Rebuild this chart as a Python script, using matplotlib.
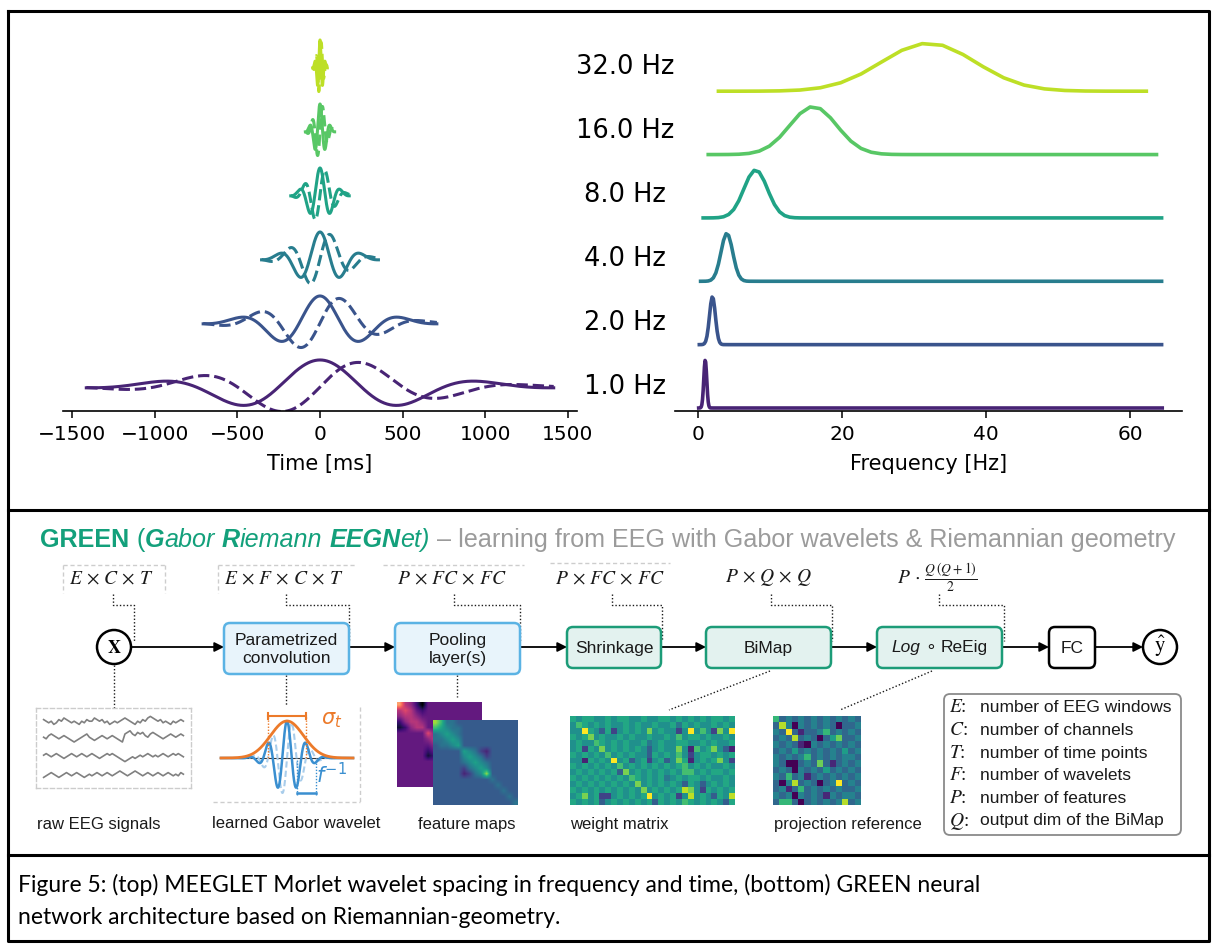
import numpy as np
import matplotlib
matplotlib.use('Agg')
import matplotlib.pyplot as plt
from matplotlib import transforms
from matplotlib.patches import FancyBboxPatch, Circle

W, H = 1212, 948

# ---------------- top panel: Morlet wavelets ----------------
freqs = [1.0, 2.0, 4.0, 8.0, 16.0, 32.0]
freq_labels = ['1.0 Hz', '2.0 Hz', '4.0 Hz', '8.0 Hz', '16.0 Hz', '32.0 Hz']
sigma_cycles = 0.55        # envelope std (in cycles)
half_width_cycles = 1.414  # wavelets are cut at +-sqrt(2) cycles
spec_rel_std = 0.289       # amplitude spectrum std / centre frequency
spec_grid_div = 11.31      # spectrum sampled every f/11.31 Hz
spec_fmax = 64.5
time_ticks = [-1500, -1000, -500, 0, 500, 1000, 1500]
freq_ticks = [0, 20, 40, 60]
time_row_gap = 2.37
freq_row_gap = 1.32

# ---------------- bottom panel: GREEN diagram ----------------
title_parts = [('GREEN', 'bold', 'normal', 'g'), (' ', 'bold', 'normal', 'g'),
               ('(', 'normal', 'normal', 'g'), ('G', 'bold', 'italic', 'g'),
               ('abor', 'normal', 'italic', 'g'), (' ', 'normal', 'italic', 'g'),
               ('R', 'bold', 'italic', 'g'), ('iemann', 'normal', 'italic', 'g'),
               (' ', 'normal', 'italic', 'g'), ('EEGN', 'bold', 'italic', 'g'),
               ('et)', 'normal', 'italic', 'g'), (' ', 'normal', 'normal', 'k'),
               ('\u2013 learning from EEG with Gabor wavelets & Riemannian geometry',
                'normal', 'normal', 'grey')]
dim_labels = [r'$E\,\times\,C\,\times\,T$', r'$E\,\times\,F\,\times\,C\,\times\,T$',
              r'$P\,\times\,FC\,\times\,FC$', r'$P\,\times\,FC\,\times\,FC$',
              r'$P\,\times\,Q\,\times\,Q$', r'$P\,\cdot\,\frac{Q\,(Q+1)}{2}$']
block_names = ['Parametrized\nconvolution', 'Pooling\nlayer(s)', 'Shrinkage', 'BiMap',
               'LOGREEIG', 'FC']
legend_keys = ['E', 'C', 'T', 'F', 'P', 'Q']
legend_text = ['number of EEG windows', 'number of channels', 'number of time points',
               'number of wavelets', 'number of features', 'output dim of the BiMap']
image_captions = ['raw EEG signals', 'learned Gabor wavelet', 'feature maps',
                  'weight matrix', 'projection reference']

eeg_traces = [
    "65453465 76545435 46557656 45345456 76543546 57876564 54354565",
    "54676545 65432345 67543456 54565432 78976878 65787654 56765676",
    "56545654 34565456 54565434 56565432 12343454 56545456 54565654",
    "34565434 56545654 34545654 56545676 54567654 56545654 56545465",
]
gabor_period = 19
gabor_sigma = 14
gabor_env_sigma = 16.5
gabor_amp = 37

feat_back = [
    "85420 33333 33333", "56532 33333 33333", "45543 33333 33333",
    "24554 33333 33333", "12455 33333 33333", "33333 64321 33333",
    "33333 45432 33333", "33333 34543 33333", "33333 23454 33333",
    "33333 12345 33333", "33333 33333 43333", "33333 33333 34333",
    "33333 33333 33433", "33333 33333 33343", "33333 33333 33334",
]
feat_front = [
    "97443 33333 33333", "76544 33333 33333", "45654 33333 33333",
    "44565 33333 33333", "34456 33333 33333", "33333 65421 33333",
    "33333 56542 33333", "33333 45654 33333", "33333 24565 33333",
    "33333 12459 33333", "33333 33333 43333", "33333 33333 34333",
    "33333 33333 33433", "33333 33333 33343", "33333 33333 33334",
]
weight_rows = [
    "5455445 4554454 4554545 4545545", "4654545 4454544 5445354 5445454",
    "4495425 1454547 4544149 4641749", "5457454 4545445 4454645 5454454",
    "4544654 5454453 4544554 4545445", "4515474 5454542 4544740 6457420",
    "5454546 4545442 5454641 4554545", "4405454 9452451 4524750 4545741",
    "5454545 4645454 5454564 5454454", "4545454 5274545 4545466 4545545",
    "5454545 4546545 4534545 5454454", "4545454 5454745 4545425 4245454",
    "5454545 4545474 5454587 4154545", "4574511 4545459 4545148 4542548",
    "5454524 5454545 2545465 4545425",
]
proj_rows = [
    "634343 434343 43", "384043 434303 34", "439313 346343 43",
    "343834 303573 34", "434310 434343 43", "343534 343435 34",
    "434346 343434 43", "430034 373134 34", "343043 435343 43",
    "436341 343434 34", "304834 303493 43", "341363 434343 34",
    "434043 431434 43", "366303 434348 34",
]

caption = ["Figure 5: (top) MEEGLET Morlet wavelet spacing in frequency and time, (bottom) GREEN neural",
           "network architecture based on Riemannian-geometry."]


def digits(rows):
    return np.array([[int(ch) for ch in r.replace(' ', '')] for r in rows], dtype=float)


GREEN = '#13a07b'
GREY = '#9b9b9b'
BLUE_EC, BLUE_FC = '#5bb3e4', '#e8f4fb'
GREEN_EC, GREEN_FC = '#1c9c78', '#e3f2ef'
INK = '#1a1a1a'
cmap_col = {'g': GREEN, 'grey': GREY, 'k': INK}

fig = plt.figure(figsize=(W / 100, H / 100), dpi=100)
ov = fig.add_axes([0, 0, 1, 1])
ov.set_xlim(0, W)
ov.set_ylim(H, 0)
ov.axis('off')
renderer = fig.canvas.get_renderer()


def px_axes(x0, y0, x1, y1):
    return fig.add_axes([x0 / W, 1 - y1 / H, (x1 - x0) / W, (y1 - y0) / H])


def text_w(t):
    return t.get_window_extent(renderer).width


def draw_run(x, y, parts, size, family):
    arts = []
    for s, weight, style, color in parts:
        props = dict(fontsize=size, family=family, weight=weight, style=style)
        if s == ' ':
            a = ov.text(0, 0, 'x x', **props)
            b = ov.text(0, 0, 'xx', **props)
            x += text_w(a) - text_w(b)
            a.remove()
            b.remove()
            continue
        t = ov.text(x, y, s, color=cmap_col.get(color, color), va='center', ha='left', **props)
        x += text_w(t)
        arts.append(t)
    return x, arts


# ---- frame
fk = dict(color='black', lw=2.2, solid_capstyle='projecting')
ov.plot([8, 1209, 1209, 8, 8], [11, 11, 941, 941, 11], **fk)
ov.plot([8, 1209], [510, 510], **fk)
ov.plot([8, 1209], [855, 855], **fk)

# ---- top plots
colors = plt.cm.viridis(np.linspace(0.1, 0.9, len(freqs)))
ax1 = px_axes(63, 30, 577, 411)
ax2 = px_axes(675, 30, 1182, 411)
lab_tr = transforms.blended_transform_factory(ov.transData, ax1.transData)
for i, (f, c) in enumerate(zip(freqs, colors)):
    t = np.linspace(-half_width_cycles, half_width_cycles, 801) / f
    env = np.exp(-(t * f) ** 2 / (2 * sigma_cycles ** 2))
    off = i * time_row_gap
    ax1.plot(t * 1000, env * np.cos(2 * np.pi * f * t) + off, color=c, lw=2.2)
    ax1.plot(t * 1000, env * np.sin(2 * np.pi * f * t) + off, color=c, lw=2.2, ls='--')
    step = f / spec_grid_div
    fr = np.arange(step, spec_fmax, step)
    power = np.exp(-((fr - f) / (spec_rel_std * f)) ** 2)
    ax2.plot(fr, power + i * freq_row_gap, color=c, lw=2.6)
    ax1.text(625, off, freq_labels[i], transform=lab_tr, ha='center', va='center',
             fontsize=18.5, clip_on=False)

ax1.set_xlim(-1555, 1555)
ax1.set_ylim(-0.89, 13.22)
ax1.set_xticks(time_ticks)
ax1.set_xlabel('Time [ms]', fontsize=15, labelpad=7)
ax2.set_xlim(-3.2, 67.2)
ax2.set_ylim(-0.0625, 7.875)
ax2.set_xticks(freq_ticks)
ax2.set_xlabel('Frequency [Hz]', fontsize=15, labelpad=7)
for ax in (ax1, ax2):
    ax.set_facecolor('none')
    for s in ('left', 'top', 'right'):
        ax.spines[s].set_visible(False)
    ax.spines['bottom'].set_linewidth(1.2)
    ax.set_yticks([])
    ax.tick_params(axis='x', labelsize=14.5, length=5, width=1.1, pad=5)

# ---- title of diagram
end, arts = draw_run(40, 540, title_parts, 16, 'Liberation Sans')
for a in arts:
    a.remove()
draw_run(40, 540, title_parts, 16 * (1176 - 40) / (end - 40), 'Liberation Sans')

# ---- dimension labels and connectors
dim_x = [111, 284, 452, 610, 769, 937]
right_edges = [134, 349, 520, 662, 832, 1004]
for lbl, x, xr in zip(dim_labels, dim_x, right_edges):
    ov.text(x, 578, lbl, ha='center', va='center', fontsize=14, color=INK,
            math_fontfamily='stix')
    ov.plot([x + 2, x + 2, xr, xr], [594, 605, 605, 641], color=INK, lw=1.0,
            ls=(0, (1, 1.5)))
faint = dict(color='#cdcdcd', lw=1.0, ls=(0, (3, 2)))
ov.plot([63, 63], [565, 593], **faint)
ov.plot([165, 165], [565, 593], **faint)
ov.plot([63, 165], [565, 565], **faint)
ov.plot([218, 218], [565, 593], **faint)
ov.plot([218, 356], [565, 565], **faint)
ov.plot([383, 524], [565, 565], **faint)
ov.plot([550, 670], [563, 563], **faint)

# ---- blocks
blocks = [(224, 623, 349, 674, BLUE_EC, BLUE_FC), (395, 623, 520, 674, BLUE_EC, BLUE_FC),
          (567, 627, 661, 668, GREEN_EC, GREEN_FC), (706, 627, 831, 668, GREEN_EC, GREEN_FC),
          (877, 627, 1002, 668, GREEN_EC, GREEN_FC), (1049, 627, 1095, 668, 'black', 'white')]
for name, (x0, y0, x1, y1, ec, fc) in zip(block_names, blocks):
    ov.add_patch(FancyBboxPatch((x0, y0), x1 - x0, y1 - y0,
                                boxstyle='round,pad=0,rounding_size=6',
                                fc=fc, ec=ec, lw=1.8, zorder=3))
    cx, cy = (x0 + x1) / 2, (y0 + y1) / 2
    if name == 'LOGREEIG':
        parts = [('Log', 'normal', 'italic', 'k'), (' ', 'normal', 'normal', 'k'),
                 ('\u2218', 'normal', 'normal', 'k'), (' ', 'normal', 'normal', 'k'),
                 ('ReEig', 'normal', 'normal', 'k')]
        e, arts = draw_run(0, cy, parts, 12.5, ['Liberation Sans', 'DejaVu Sans'])
        for a in arts:
            a.set_x(a.get_position()[0] + cx - e / 2)
            a.set_zorder(4)
    else:
        ov.text(cx, cy + 1, name, ha='center', va='center', fontsize=12.5,
                family='Liberation Sans', color=INK, linespacing=1.3, zorder=4)

ov.add_patch(Circle((114, 647), 17, fc='white', ec='black', lw=1.8, zorder=3))
ov.text(114, 648, r'$\mathbf{X}$', ha='center', va='center', fontsize=13,
        math_fontfamily='stix', zorder=4)
ov.add_patch(Circle((1160, 647), 17, fc='white', ec='black', lw=1.8, zorder=3))
ov.text(1160, 646, r'$\hat{\mathrm{y}}$', ha='center', va='center', fontsize=15,
        math_fontfamily='stix', zorder=4)

arrows = [(131, 224), (349, 395), (520, 567), (661, 706), (831, 877), (1002, 1049), (1095, 1143)]
for xa, xb in arrows:
    ov.annotate('', xy=(xb, 647), xytext=(xa, 647),
                arrowprops=dict(arrowstyle='-|>', color='black', lw=1.3,
                                mutation_scale=14, shrinkA=0, shrinkB=0), zorder=2)

dot = dict(color=INK, lw=1.0, ls=(0, (1, 1.5)))
ov.plot([114, 114], [665, 708], **dot)
ov.plot([286, 286], [675, 706], **dot)
ov.plot([457, 457], [675, 697], **dot)
ov.plot([770, 669], [671, 710], **dot)
ov.plot([932, 840], [671, 710], **dot)

# ---- raw EEG
axe = px_axes(36, 708, 191, 788)
for k, tr in enumerate(eeg_traces):
    vals = digits([tr])[0]
    axe.plot(np.arange(len(vals)), [14, 30, 48, 67][k] - (vals - 4.5) * 1.6,
             color='#808080', lw=1.2)
axe.set_xlim(-3, 58)
axe.set_ylim(80, 0)
axe.set_xticks([])
axe.set_yticks([])
for sp in axe.spines.values():
    sp.set_linestyle((0, (3, 2)))
    sp.set_color('#cccccc')
    sp.set_linewidth(1.0)

# ---- Gabor illustration
axg = px_axes(213, 707, 360, 802)
axg.set_xlim(-74, 73)
axg.set_ylim(-44, 51)
axg.axis('off')
gx = np.linspace(-66, 66, 500)
genv = np.exp(-gx ** 2 / (2 * gabor_sigma ** 2))
axg.plot([-67, 66], [0, 0], color='#333333', lw=0.8)
axg.plot(gx, gabor_amp * genv * np.sin(2 * np.pi * gx / gabor_period), color='#a9cdeb',
         lw=1.5, ls=(0, (3, 1.5)))
axg.plot(gx, gabor_amp * genv * np.cos(2 * np.pi * gx / gabor_period), color='#3a8fd0', lw=1.8)
axg.plot(gx, gabor_amp * np.exp(-gx ** 2 / (2 * gabor_env_sigma ** 2)), color='#ec7a2a', lw=2.0)
half = gabor_env_sigma * 1.1774
axg.plot([-half, half], [42, 42], color='#ec7a2a', lw=1.5)
for xv in (-half, half):
    axg.plot([xv, xv], [39, 45], color='#ec7a2a', lw=1.5)
    axg.plot([xv, xv], [0, 42], color='#ec7a2a', lw=1.0, ls=(0, (1, 1.2)))
for xv in (gabor_period / 2, gabor_period * 1.5):
    axg.plot([xv, xv], [-37, 0], color='#3a8fd0', lw=1.0, ls=(0, (1, 1.2)))
axg.plot([gabor_period / 2, gabor_period * 1.5], [-35, -35], color='#3a8fd0', lw=1.8)
axg.text(45, 38, r'$\sigma_t$', color='#ec7a2a', fontsize=15, ha='center', va='center')
axg.text(45, -17, r'$f^{-1}$', color='#3a8fd0', fontsize=15, ha='center', va='center')
ov.plot([360, 360], [707, 802], **faint)
ov.plot([213, 360], [802, 802], **faint)

# ---- feature maps and matrices
axb = px_axes(397, 702, 482, 787)
axb.imshow(digits(feat_back), cmap='magma', vmin=0, vmax=10, aspect='auto',
           interpolation='bilinear')
axb.axis('off')
axf = px_axes(433, 720, 518, 805)
axf.imshow(digits(feat_front), cmap='viridis', vmin=0, vmax=10.5, aspect='auto',
           interpolation='bilinear')
axf.axis('off')
axw = px_axes(570, 716, 735, 805)
axw.imshow(digits(weight_rows), cmap='viridis', vmin=-1, vmax=9, aspect='auto',
           interpolation='nearest')
axw.axis('off')
axp = px_axes(773, 716, 861, 805)
axp.imshow(digits(proj_rows), cmap='viridis', vmin=0, vmax=9, aspect='auto',
           interpolation='nearest')
axp.axis('off')

for lbl, x in zip(image_captions, [37, 212, 418, 570, 774]):
    ov.text(x, 824, lbl, ha='left', va='center', fontsize=12, family='Liberation Sans',
            color=INK)

# ---- legend box
ov.add_patch(FancyBboxPatch((944, 694), 237, 141, boxstyle='round,pad=0,rounding_size=6',
                            fc='white', ec='#8a8a8a', lw=1.3))
for k, (key, desc) in enumerate(zip(legend_keys, legend_text)):
    y = 708 + k * 22.6
    ov.text(949, y, '$%s$:' % key, ha='left', va='center', fontsize=14,
            family='Liberation Serif', math_fontfamily='stix', color=INK)
    ov.text(980, y, desc, ha='left', va='center', fontsize=12.5, family='Liberation Sans',
            color=INK)

# ---- caption
c1 = ov.text(18, 885, caption[0], ha='left', va='center', fontsize=18, family='Lato')
scale = (975 - 18) / text_w(c1)
c1.set_fontsize(18 * scale)
ov.text(18, 918, caption[1], ha='left', va='center', fontsize=18 * scale, family='Lato')

fig.savefig('out.png', dpi=100)
